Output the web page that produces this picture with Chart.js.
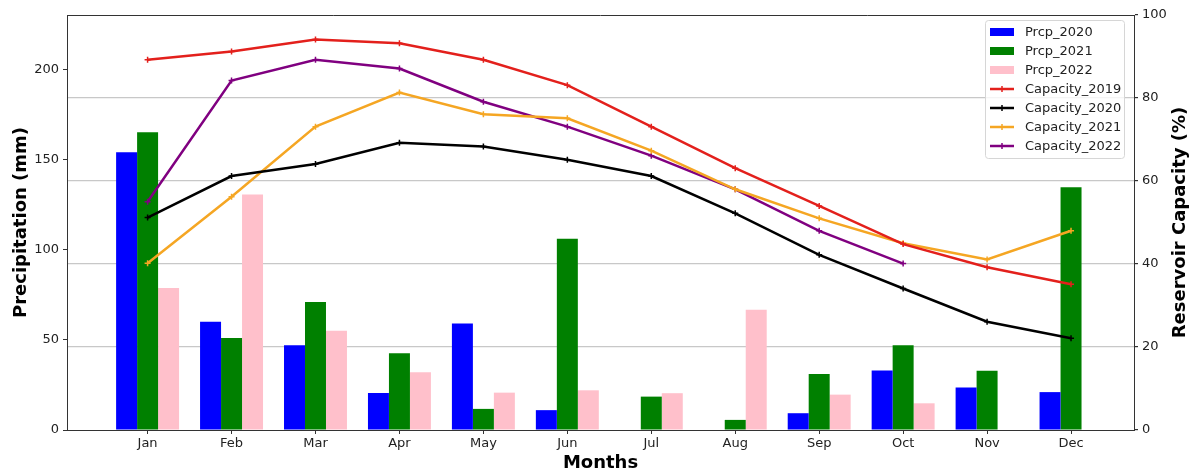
<!DOCTYPE html>
<html>
<head>
<meta charset="utf-8">
<script src="https://cdn.jsdelivr.net/npm/chart.js@4/dist/chart.umd.min.js"></script>
<style>
    body { margin: 0; background: #fff; }
    canvas { display: block; }
</style>
</head>
<body>
<canvas id="chart" width="1194" height="475"></canvas>
<script>
// Data
const months = ['Jan', 'Feb', 'Mar', 'Apr', 'May', 'Jun', 'Jul', 'Aug', 'Sep', 'Oct', 'Nov', 'Dec'];

const prcp2020 = [154, 60, 47, 20.5, 59, 11, 0, 0, 9.3, 33, 23.5, 21];
const prcp2021 = [165, 51, 71, 42.6, 11.7, 106, 18.5, 5.6, 31, 47, 32.8, 134.6];
const prcp2022 = [78.7, 130.5, 55, 32, 20.7, 22, 20.4, 66.7, 19.6, 14.8, 0, 0];

const capacity2019 = [89.2, 91.2, 94.1, 93.2, 89.2, 83.1, 73.1, 63.1, 54, 44.8, 39.2, 35.1];
const capacity2020 = [51.2, 61.2, 64.1, 69.2, 68.3, 65.1, 61.2, 52.2, 42.2, 34.1, 26.1, 22.1];
const capacity2021 = [40.2, 56.2, 73.1, 81.3, 76.1, 75.1, 67.3, 58, 51, 45, 41.1, 48];
const capacity2022 = [55, 84.2, 89.2, 87.1, 79.1, 73.1, 66.1, 58, 48, 40.1, null, null];

const prcpTicks = [0, 50, 100, 150, 200];
const capacityTicks = [0, 20, 40, 60, 80, 100];

const FONT = 'DejaVu Sans';
const TEXT = '#222';

function points(values) {
    return values.map((v, i) => ({ x: i, y: v }));
}

function barSet(label, values, color) {
    return {
        type: 'bar',
        label: label,
        data: points(values),
        backgroundColor: color,
        borderWidth: 0,
        yAxisID: 'y',
        order: 2,
        grouped: true
    };
}

function lineSet(label, values, color) {
    return {
        type: 'line',
        label: label,
        data: points(values),
        borderColor: color,
        backgroundColor: color,
        borderWidth: 2.5,
        pointStyle: 'cross',
        pointRadius: 3,
        pointBorderWidth: 1.5,
        tension: 0,
        spanGaps: false,
        yAxisID: 'y2',
        order: 1
    };
}

const datasets = [
    barSet('Prcp_2020', prcp2020, '#0000ff'),
    barSet('Prcp_2021', prcp2021, '#008000'),
    barSet('Prcp_2022', prcp2022, '#ffc0cb'),
    lineSet('Capacity_2019', capacity2019, '#e3201c'),
    lineSet('Capacity_2020', capacity2020, '#000000'),
    lineSet('Capacity_2021', capacity2021, '#f5a623'),
    lineSet('Capacity_2022', capacity2022, '#800080')
];

// Frame, right axis title and legend drawn on top of the plot
const framePlugin = {
    id: 'frame',
    afterDraw(chart) {
        const ctx = chart.ctx;
        const ca = chart.chartArea;
        ctx.save();
        ctx.strokeStyle = '#333';
        ctx.lineWidth = 1;
        ctx.beginPath();
        ctx.moveTo(ca.left, ca.top + 0.5);
        ctx.lineTo(ca.right, ca.top + 0.5);
        ctx.stroke();

        // right axis title, reading bottom to top
        ctx.save();
        ctx.translate(1180, (ca.top + ca.bottom) / 2);
        ctx.rotate(-Math.PI / 2);
        ctx.font = 'bold 18px "' + FONT + '"';
        ctx.fillStyle = '#000';
        ctx.textAlign = 'center';
        ctx.textBaseline = 'middle';
        ctx.fillText('Reservoir Capacity (%)', 0, 0);
        ctx.restore();

        // legend box
        const boxW = 139, boxH = 138;
        const bx = ca.right - 149;
        const by = ca.top + 5;
        ctx.fillStyle = 'rgba(255,255,255,0.8)';
        ctx.strokeStyle = '#d6d6d6';
        ctx.lineWidth = 1;
        ctx.beginPath();
        ctx.roundRect(bx + 0.5, by + 0.5, boxW, boxH, 3);
        ctx.fill();
        ctx.stroke();

        ctx.font = '13px "' + FONT + '"';
        ctx.textBaseline = 'middle';
        ctx.textAlign = 'left';
        chart.data.datasets.forEach((ds, i) => {
            const cy = by + 12 + i * 19;
            if (ds.type === 'bar') {
                ctx.fillStyle = ds.backgroundColor;
                ctx.fillRect(bx + 5, cy - 4, 24, 8);
            } else {
                ctx.strokeStyle = ds.borderColor;
                ctx.lineWidth = 2.5;
                ctx.beginPath();
                ctx.moveTo(bx + 5, cy);
                ctx.lineTo(bx + 29, cy);
                ctx.stroke();
                ctx.lineWidth = 1.5;
                ctx.beginPath();
                ctx.moveTo(bx + 17, cy - 3);
                ctx.lineTo(bx + 17, cy + 3);
                ctx.stroke();
            }
            ctx.fillStyle = TEXT;
            ctx.fillText(ds.label, bx + 40, cy + 1);
        });
        ctx.restore();
    }
};

const ctx = document.getElementById('chart').getContext('2d');
new Chart(ctx, {
    data: { datasets: datasets },
    options: {
        responsive: false,
        animation: false,
        layout: { padding: { top: 15, right: 0, left: 0, bottom: 0 } },
        datasets: {
            bar: { categoryPercentage: 0.75, barPercentage: 1.0 }
        },
        plugins: {
            legend: { display: false },
            tooltip: { enabled: false }
        },
        scales: {
            x: {
                type: 'linear',
                offset: false,
                min: -0.96,
                max: 11.75,
                afterBuildTicks(scale) {
                    scale.ticks = months.map((m, i) => ({ value: i }));
                },
                afterFit(scale) { scale.height = 45; },
                ticks: {
                    callback: (v) => months[v] ?? '',
                    color: TEXT,
                    font: { family: FONT, size: 13 },
                    padding: 2,
                    maxRotation: 0,
                    autoSkip: false
                },
                grid: { offset: false, drawOnChartArea: false, drawTicks: true, tickLength: 4, tickColor: '#333' },
                border: { color: '#333', width: 1 },
                title: {
                    display: true,
                    text: 'Months',
                    color: '#000',
                    font: { family: FONT, size: 18, weight: 'bold' },
                    padding: { top: 0, bottom: 1 }
                }
            },
            y: {
                type: 'linear',
                position: 'left',
                min: 0,
                max: 230,
                afterBuildTicks(scale) {
                    scale.ticks = prcpTicks.map(v => ({ value: v }));
                },
                afterFit(scale) { scale.width = 67; },
                ticks: {
                    color: TEXT,
                    font: { family: FONT, size: 13 },
                    padding: 4
                },
                grid: { drawOnChartArea: false, drawTicks: true, tickLength: 4, tickColor: '#333' },
                border: { color: '#333', width: 1 },
                title: {
                    display: true,
                    text: 'Precipitation (mm)',
                    color: '#000',
                    font: { family: FONT, size: 18, weight: 'bold' },
                    padding: { top: 11, bottom: 0 }
                }
            },
            y2: {
                type: 'linear',
                position: 'right',
                min: 0,
                max: 100,
                afterBuildTicks(scale) {
                    scale.ticks = capacityTicks.map(v => ({ value: v }));
                },
                afterFit(scale) { scale.width = 60; },
                ticks: {
                    color: TEXT,
                    font: { family: FONT, size: 13 },
                    padding: 4
                },
                grid: {
                    drawOnChartArea: true,
                    drawTicks: true,
                    tickLength: 4,
                    tickColor: '#333',
                    lineWidth: 1.2,
                    color: (c) => (c.tick && (c.tick.value === 0 || c.tick.value === 100)) ? 'rgba(0,0,0,0)' : '#c8c8c8'
                },
                border: { color: '#333', width: 1 },
                title: { display: false }
            }
        }
    },
    plugins: [framePlugin]
});
</script>
</body>
</html>
